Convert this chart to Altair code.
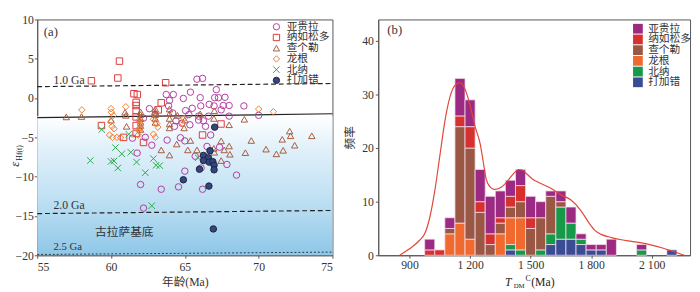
import altair as alt
import pandas as pd

FONT = "'Liberation Serif', 'Noto Sans CJK SC', serif"
SITES = ["亚贵拉", "纳如松多", "查个勒", "龙根", "北纳", "打加错"]

# ---- panel (a): age (Ma) vs eHf(t) ----
YGL = [(65.82, 2.4), (66.2, 2.5), (67.13, 1.07), (63.74, 0.45), (64.22, 0.45), (65.38, 0.75),
       (63.96, -0.3), (64.9, -0.05), (66.04, 0.05), (67.02, 0.05), (67.28, 0.05), (67.72, 0.1),
       (63.9, -1.0), (62.6, -1.35), (65.5, -1.3), (66.08, -1.0), (66.65, -0.8), (66.98, -1.0),
       (67.6, -0.95), (68.0, -0.95), (69.0, -1.0), (67.46, -1.5), (65.05, -1.6), (64.18, -1.9),
       (62.98, -2.1), (65.27, -2.1), (65.93, -2.3), (66.6, -2.3), (68.0, -2.3), (70.0, -2.2),
       (62.2, -2.55), (64.4, -2.9), (64.8, -3.2), (65.34, -3.4), (65.93, -2.8), (66.26, -2.9),
       (66.4, -3.6), (66.75, -4.7), (64.3, -3.6), (62.32, -5.0), (61.45, -5.1), (63.8, -5.35),
       (64.7, -5.05), (65.0, -5.45), (66.5, -6.15), (62.76, -6.0), (61.77, -7.0), (65.7, -7.4),
       (67.35, -6.25), (67.85, -8.45), (66.1, -8.9), (65.0, -9.3), (68.5, -9.8), (62.0, -11.0),
       (63.4, -11.6), (64.57, -11.3), (66.2, -11.6), (62.2, -14.0)]
NRSD = [(60.57, 4.7), (60.46, 2.55), (58.67, 2.2), (63.7, 1.95), (61.55, 0.55), (61.78, 0.45),
        (61.7, -0.55), (61.7, -0.95), (61.7, -1.6), (61.7, -2.4), (61.7, -3.5), (61.7, -4.5),
        (59.35, -3.5), (60.85, -5.0), (62.2, -5.65), (63.4, -0.6), (63.2, -1.5), (67.45, -3.3),
        (66.2, -4.7)]
CGL = [(56.97, -2.4), (58.0, -2.35), (60.95, -1.8), (61.0, -2.2), (61.05, -3.6), (60.0, -2.8),
       (62.0, -1.75), (62.0, -2.1), (62.0, -2.6), (62.0, -3.1), (62.0, -3.5), (62.0, -4.0),
       (63.0, -1.4), (63.0, -1.8), (63.0, -2.1), (63.0, -2.6), (63.0, -3.1),
       (63.96, -1.4), (63.96, -2.0), (63.96, -2.6), (63.96, -3.3), (63.96, -3.8),
       (64.5, -2.2), (65.0, -2.8), (64.95, -3.8), (66.04, -2.0), (67.0, -1.6), (66.97, -2.6),
       (68.0, -3.4), (69.03, -2.7), (64.45, -5.85), (65.38, -5.4), (65.82, -6.6), (67.0, -6.9),
       (66.96, -6.4), (67.67, -6.6), (67.46, -5.45), (68.0, -6.1), (68.05, -7.15), (67.46, -7.95),
       (69.1, -6.95), (69.5, -5.4), (70.5, -6.5), (71.2, -7.1), (71.6, -5.25), (71.66, -6.65),
       (72.1, -4.2), (72.16, -4.8), (72.44, -6.0), (73.6, -4.8), (63.4, -6.6), (63.96, -7.25),
       (65.2, -6.6)]
LG = [(58.02, -1.5), (60.0, -1.35), (60.03, -1.8), (60.16, -2.2), (60.0, -3.0), (60.07, -3.6),
      (60.2, -3.9), (59.9, -4.7), (60.1, -5.0), (60.4, -5.0), (60.65, -5.05), (61.0, -1.1),
      (61.9, -2.85), (62.0, -3.3), (61.95, -3.8), (61.9, -4.2), (61.84, -4.7), (62.87, -2.7),
      (63.1, -3.25), (63.17, -3.7), (62.87, -4.6), (63.0, -5.0), (64.95, -2.6), (64.84, -3.2),
      (70.0, -1.4), (71.0, -1.75)]
BN = [(59.37, -4.0), (61.2, -4.6), (60.3, -6.3), (60.73, -7.1), (61.34, -6.9), (58.6, -7.95),
      (60.0, -8.07), (60.2, -8.0), (60.46, -8.9), (61.73, -8.15), (62.87, -7.7), (63.05, -8.55),
      (63.3, -8.6), (62.32, -9.5), (62.76, -13.7), (65.9, -7.6)]
DJC = [(67.02, -3.7), (66.7, -6.7), (66.26, -7.3), (66.6, -7.6), (66.26, -7.95), (66.65, -8.15),
       (66.9, -8.1), (66.98, -8.55), (65.99, -9.05), (66.98, -9.13), (64.9, -10.4),
       (66.63, -11.2), (66.93, -16.65)]

# reference lines: (name, age, eHf) end points
REF_LINES = [("1.0 Ga", 55, 1.45), ("1.0 Ga", 75, 1.85),
             ("2.0 Ga", 55, -14.7), ("2.0 Ga", 75, -14.3)]
MEAN_LINE = [("mean", 55, -2.5), ("mean", 75, -2.0)]
DOT_LINE = [("2.5 Ga", 55, -19.9), ("2.5 Ga", 75, -19.6)]
LABELS_A = [("1.0 Ga", 56.1, 2.3, 12, "left"), ("2.0 Ga", 56.1, -13.6, 12, "left"),
            ("2.5 Ga", 56.1, -19.0, 11, "left"), ("古拉萨基底", 60.9, -17.0, 12, "center"),
            ("(a)", 55.45, 8.4, 13, "left")]

# ---- panel (b): TDM^C histogram ----
BIN_START = [975, 1025, 1075, 1125, 1175, 1225, 1275, 1325, 1375, 1425, 1475, 1525, 1575,
             1625, 1675, 1725, 1775, 1825, 1875, 1925, 1975, 2025, 2075, 2125, 2175]
BIN_WIDTH = 50
COUNTS = {
    "亚贵拉":  [2, 0, 2, 7, 5, 6, 7, 5, 3, 3, 4, 3, 1, 2, 3, 1, 1, 1, 3, 0, 0, 1, 0, 0, 0],
    "纳如松多": [1, 1, 0, 2, 4, 2, 2, 1, 2, 3, 2, 0, 0, 0, 0, 0, 0, 0, 0, 0, 0, 0, 0, 0, 0],
    "查个勒":  [0, 0, 1, 18, 17, 8, 2, 2, 2, 3, 5, 6, 7, 1, 0, 0, 0, 0, 0, 0, 0, 0, 0, 0, 0],
    "龙根":   [0, 0, 4, 6, 3, 0, 0, 4, 5, 6, 0, 0, 0, 0, 0, 0, 0, 0, 0, 0, 0, 0, 0, 0, 0],
    "北纳":   [0, 0, 0, 0, 0, 0, 0, 0, 1, 1, 0, 1, 2, 6, 3, 1, 0, 0, 0, 0, 0, 1, 0, 0, 0],
    "打加错":  [0, 0, 0, 0, 0, 0, 0, 0, 1, 0, 0, 0, 2, 3, 3, 2, 1, 1, 0, 0, 0, 0, 0, 0, 1],
}
STACK_ORDER = ["打加错", "北纳", "龙根", "查个勒", "纳如松多", "亚贵拉"]
KDE_T = [851, 900, 950, 975, 1000, 1025, 1050, 1075, 1100, 1125, 1150, 1175, 1200, 1225, 1250,
         1265, 1280, 1300, 1320, 1350, 1380, 1410, 1440, 1460, 1480, 1510, 1550, 1600, 1650,
         1700, 1750, 1790, 1820, 1850, 1900, 1950, 2000, 2050, 2100, 2150, 2200, 2262]
KDE_F = [0, 1.2, 2.8, 4, 7, 12, 18.5, 25, 29.5, 31.7, 32.2, 31, 28, 24, 20.8,
         17.5, 14.2, 12.7, 12.3, 12.6, 13.6, 15, 16, 15.9, 15.2, 14.2, 13.4, 12.5, 11.3,
         10.3, 8.3, 6.0, 4.6, 3.9, 3.3, 2.9, 2.6, 2.3, 1.9, 1.4, 0.8, 0]

PT_STROKE = ["#b13c9f", "#e0393b", "#a85a3e", "#f27b2b", "#2aa84a", "#1d2440"]
PT_FILL = ["transparent", "transparent", "transparent", "transparent", "transparent", "#34467f"]
PT_SHAPE = ["circle", "square", "triangle-up", "diamond", "M-1,-1L1,1M-1,1L1,-1", "circle"]
BAR_COL = ["#9c2a82", "#d6302f", "#9a5744", "#f06a2f", "#17994a", "#3a4c94"]

H = 242
WL = 303
WR = 320

# ---------------- data frames ----------------
rows = []
for s, pts in zip(SITES, [YGL, NRSD, CGL, LG, BN, DJC]):
    for a, e in pts:
        rows.append({"x": a, "y": e, "site": s})
sc = pd.DataFrame(rows)

ref_df = pd.DataFrame(REF_LINES, columns=["name", "x", "y"])
mean_df = pd.DataFrame(MEAN_LINE, columns=["name", "x", "y"])
dot_df = pd.DataFrame(DOT_LINE, columns=["name", "x", "y"])
lab_df = pd.DataFrame(LABELS_A, columns=["t", "x", "y", "fs", "al"])
bg_df = pd.DataFrame({"x": [55], "x2": [75], "y": [-2.3], "y2": [-20]})

hrows = []
for i, b in enumerate(BIN_START):
    base = 0
    for s in STACK_ORDER:
        n = COUNTS[s][i]
        if n > 0:
            hrows.append({"b0": b, "b1": b + BIN_WIDTH, "c0": base, "c1": base + n, "site2": s})
            base += n
hist = pd.DataFrame(hrows)
kde = pd.DataFrame({"t": KDE_T, "f": KDE_F})

# ---------------- panel (a) ----------------
SX = alt.Scale(domain=[55, 75], nice=False, zero=False)
SY = alt.Scale(domain=[-20, 10], nice=False, zero=False)
AXX = alt.Axis(values=[55, 60, 65, 70, 75], title="年龄(Ma)", grid=False, tickSize=3,
               labelFontSize=12, titleFontSize=12, titleFontWeight="normal", titlePadding=4,
               labelPadding=4)
AXY = alt.Axis(values=[-20, -15, -10, -5, 0, 5, 10], title=None, grid=False, tickSize=3,
               labelFontSize=12, labelPadding=1)


def X(f):
    return alt.X(f, scale=SX, axis=AXX)


def Y(f):
    return alt.Y(f, scale=SY, axis=AXY)


bg = alt.Chart(bg_df).mark_rect(
    color=alt.Gradient(gradient="linear",
                       stops=[alt.GradientStop(color="#ffffff", offset=0),
                              alt.GradientStop(color="#e2f1fa", offset=0.22),
                              alt.GradientStop(color="#bfe0f3", offset=0.6),
                              alt.GradientStop(color="#8ec7e8", offset=1)],
                       x1=0, x2=0, y1=0, y2=1)
).encode(x=X("x:Q"), x2="x2:Q", y=Y("y:Q"), y2="y2:Q")

l_dash = alt.Chart(ref_df).mark_line(color="#222", strokeWidth=1.2, strokeDash=[5, 3]).encode(
    x=X("x:Q"), y=Y("y:Q"), detail="name:N")
l_mean = alt.Chart(mean_df).mark_line(color="#222", strokeWidth=1.2).encode(
    x=X("x:Q"), y=Y("y:Q"), detail="name:N")
l_dot = alt.Chart(dot_df).mark_line(color="#333", strokeWidth=1, strokeDash=[2, 2]).encode(
    x=X("x:Q"), y=Y("y:Q"), detail="name:N")

txt_layers = []
for al in ["left", "center"]:
    sub = lab_df[lab_df["al"] == al]
    txt_layers.append(
        alt.Chart(sub).mark_text(align=al, baseline="middle", color="#333").encode(
            x=X("x:Q"), y=Y("y:Q"), text="t:N",
            size=alt.Size("fs:Q", scale=None, legend=None)))

eps_df = pd.DataFrame({"t": ["ε"]})
sub_df = pd.DataFrame({"t": ["Hf(t)"]})
eps1 = alt.Chart(eps_df).mark_text(angle=270, align="right", baseline="alphabetic",
                                   fontSize=13, fontStyle="italic", color="#222").encode(
    x=alt.value(-19), y=alt.value(146), text="t:N")
eps2 = alt.Chart(sub_df).mark_text(angle=270, align="left", baseline="alphabetic",
                                   fontSize=8, color="#222").encode(
    x=alt.value(-16), y=alt.value(145), text="t:N")

LEG_A = alt.Legend(title=None, orient="none", legendX=240, legendY=2, padding=0,
                   labelFontSize=11, rowPadding=-1, labelOffset=5, symbolStrokeWidth=1,
                   symbolSize=42, labelColor="#333")
pts = alt.Chart(sc).mark_point(strokeWidth=1, opacity=1, size=44).encode(
    x=X("x:Q"), y=Y("y:Q"),
    stroke=alt.Stroke("site:N", scale=alt.Scale(domain=SITES, range=PT_STROKE), legend=LEG_A),
    fill=alt.Fill("site:N", scale=alt.Scale(domain=SITES, range=PT_FILL), legend=LEG_A),
    shape=alt.Shape("site:N", scale=alt.Scale(domain=SITES, range=PT_SHAPE), legend=LEG_A),
)

left = alt.layer(bg, l_mean, l_dash, l_dot, *txt_layers, eps1, eps2, pts).properties(
    width=WL, height=H)

# ---------------- panel (b) ----------------
SBX = alt.Scale(domain=[745, 2290], nice=False, zero=False)
SBY = alt.Scale(domain=[0, 44], nice=False)
ABX = alt.Axis(values=[900, 1200, 1500, 1800, 2100], title=None, grid=False, tickSize=3,
               labelFontSize=12, labelPadding=2,
               labelExpr="replace(format(datum.value, ','), ',', ' ')")
ABY = alt.Axis(values=[0, 10, 20, 30, 40], title="频率", grid=False, tickSize=3,
               labelFontSize=12, titleFontSize=12, titleFontWeight="normal", titlePadding=5,
               labelPadding=2)

bars = alt.Chart(hist).mark_rect(stroke="#f4dcec", strokeWidth=0.8).encode(
    x=alt.X("b0:Q", scale=SBX, axis=ABX), x2="b1:Q",
    y=alt.Y("c0:Q", scale=SBY, axis=ABY), y2="c1:Q",
    color=alt.Color("site2:N", scale=alt.Scale(domain=SITES, range=BAR_COL),
                    legend=alt.Legend(title=None, orient="none", legendX=261, legendY=4,
                                      padding=0, symbolType="square", symbolSize=100,
                                      labelFontSize=11, rowPadding=-1, labelOffset=5,
                                      symbolStrokeWidth=0, labelColor="#333")),
)
kde_line = alt.Chart(kde).mark_line(color="#e2463a", strokeWidth=1.2, interpolate="monotone").encode(
    x=alt.X("t:Q", scale=SBX, axis=ABX), y=alt.Y("f:Q", scale=SBY, axis=ABY))

b_df = pd.DataFrame({"t": ["(b)"], "x": [790], "y": [42.0]})
b_txt = alt.Chart(b_df).mark_text(align="left", baseline="middle", fontSize=13, color="#333").encode(
    x=alt.X("x:Q", scale=SBX, axis=ABX), y=alt.Y("y:Q", scale=SBY, axis=ABY), text="t:N")

ttl = []
for t, xx, yy, fs, st in [("T", 130, H + 32, 12, "italic"), ("DM", 139, H + 34, 7, "normal"),
                          ("C", 151, H + 26, 8, "normal"), ("(Ma)", 157, H + 32, 12, "normal")]:
    ttl.append(alt.Chart(pd.DataFrame({"t": [t]})).mark_text(
        align="left", baseline="alphabetic", fontSize=fs, fontStyle=st, color="#222").encode(
        x=alt.value(xx), y=alt.value(yy), text="t:N"))

right = alt.layer(bars, kde_line, b_txt, *ttl).properties(width=WR, height=H)

chart = alt.hconcat(left, right, spacing=8).resolve_scale(
    color="independent", fill="independent", stroke="independent", shape="independent"
).resolve_legend(color="independent").properties(
    padding={"left": 0, "right": 0, "top": 1, "bottom": 0}
).configure(font=FONT).configure_view(
    stroke="#555", strokeWidth=1
).configure_axis(
    domainColor="#555", tickColor="#555", labelColor="#333", titleColor="#333",
    labelFont=FONT, titleFont=FONT
).configure_legend(labelFont=FONT)

chart.save("out.html", embed_options={"renderer": "svg", "actions": False})
